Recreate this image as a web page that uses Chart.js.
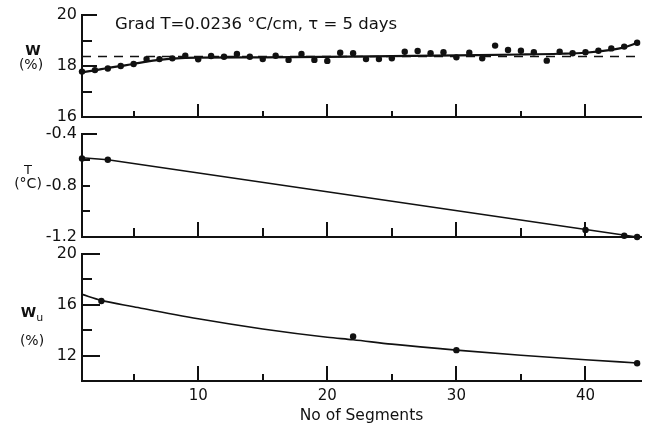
<!DOCTYPE html>
<html>
<head>
<meta charset="utf-8">
<script src="https://cdn.jsdelivr.net/npm/chart.js@4.4.1/dist/chart.umd.min.js"></script>
<style>
  html, body { margin: 0; padding: 0; background: #fff; }
  #wrap { position: relative; width: 645px; height: 431px; overflow: hidden;
          font-family: "DejaVu Sans", sans-serif; color: #111; }
  #wrap canvas { position: absolute; left: 0; top: 0; }
  .lbl { position: absolute; white-space: nowrap; line-height: 1; transform: translate(-50%, -50%); }
</style>
</head>
<body>
<div id="wrap">
  <canvas id="cW" width="645" height="431"></canvas>
  <canvas id="cT" width="645" height="431"></canvas>
  <canvas id="cWu" width="645" height="431"></canvas>

  <div class="lbl" style="left:115px;top:24px;transform:translate(0,-50%);font-size:16.5px;">Grad T=0.0236 °C/cm, τ = 5 days</div>

  <div class="lbl" style="left:33px;top:50px;font-size:14px;font-weight:bold;">W</div>
  <div class="lbl" style="left:31px;top:64px;font-size:14px;">(%)</div>

  <div class="lbl" style="left:28px;top:169px;font-size:13px;">T</div>
  <div class="lbl" style="left:28px;top:183px;font-size:14px;">(°C)</div>

  <div class="lbl" style="left:32px;top:314px;font-size:14px;font-weight:bold;">W<sub style="font-size:11px;font-weight:normal;">u</sub></div>
  <div class="lbl" style="left:32px;top:340px;font-size:14px;">(%)</div>
</div>

<script>
// ---- segment axis ----
const xTickVals  = [5, 10, 15, 20, 25, 30, 35, 40];
const xMajorVals = [10, 20, 30, 40];

// ---- moisture content W (%) per segment ----
const segments = [1, 2, 3, 4, 5, 6, 7, 8, 9, 10, 11, 12, 13, 14, 15, 16, 17, 18, 19, 20, 21, 22,
                  23, 24, 25, 26, 27, 28, 29, 30, 31, 32, 33, 34, 35, 36, 37, 38, 39, 40, 41, 42, 43, 44];
const wPct = [17.78, 17.84, 17.90, 18.00, 18.08, 18.27, 18.27, 18.30, 18.40, 18.26, 18.39,
              18.36, 18.47, 18.36, 18.27, 18.40, 18.24, 18.47, 18.24, 18.20, 18.52, 18.50,
              18.27, 18.27, 18.30, 18.56, 18.59, 18.50, 18.54, 18.34, 18.52, 18.30, 18.80,
              18.63, 18.60, 18.54, 18.21, 18.56, 18.50, 18.54, 18.60, 18.69, 18.76, 18.91];
const wFitSeg = [1, 2, 3, 4, 5, 6, 7, 8, 10, 15, 20, 25, 30, 35, 38, 40, 42, 43, 44];
const wFitPct = [17.75, 17.83, 17.92, 18.00, 18.08, 18.17, 18.24, 18.29, 18.33, 18.34, 18.36,
                 18.39, 18.42, 18.45, 18.48, 18.52, 18.63, 18.73, 18.90];
const wInitialSeg = [1, 44];
const wInitialPct = [18.37, 18.37];
const wTickVals  = [16, 17, 18, 19, 20];
const wLabelVals = [16, 18, 20];

// ---- temperature T (°C) ----
const tLineSeg  = [1, 3, 44];
const tLineC    = [-0.585, -0.6, -1.2];
const tPointSeg = [1, 3, 40, 43, 44];
const tPointC   = [-0.59, -0.6, -1.145, -1.19, -1.2];
const tTickVals  = [-1.2, -1.0, -0.8, -0.6, -0.4];
const tLabelVals = [-1.2, -0.8, -0.4];

// ---- unfrozen water content Wu (%) ----
const wuLineSeg  = [1, 2.5, 5, 10, 15, 20, 22, 25, 30, 35, 40, 44];
const wuLinePct  = [16.82, 16.35, 15.85, 14.9, 14.1, 13.45, 13.25, 12.9, 12.43, 12.03, 11.67, 11.42];
const wuPointSeg = [2.5, 22, 30, 44];
const wuPointPct = [16.3, 13.5, 12.43, 11.4];
const wuTickVals  = [10, 12, 14, 16, 18, 20];
const wuLabelVals = [12, 16, 20];

const INK = '#111';
const FONT = '"DejaVu Sans", sans-serif';

const pairs = (xs, ys) => xs.map((x, i) => ({ x, y: ys[i] }));

// tick marks drawn on the inner side of the axes
const innerTicks = {
  id: 'innerTicks',
  afterDatasetsDraw(chart, args, opts) {
    const { ctx, chartArea } = chart;
    const xs = chart.scales.x, ys = chart.scales.y;
    ctx.save();
    ctx.strokeStyle = INK;
    ctx.lineWidth = 2;
    ctx.beginPath();
    xTickVals.forEach(v => {
      const px = Math.round(xs.getPixelForValue(v));
      const len = xMajorVals.includes(v) ? opts.xMajor : opts.xMinor;
      ctx.moveTo(px, chartArea.bottom);
      ctx.lineTo(px, chartArea.bottom - len);
    });
    opts.yTicks.forEach(v => {
      const py = Math.round(ys.getPixelForValue(v));
      const len = opts.yMajorVals.includes(v) ? opts.yMajor : opts.yMinor;
      ctx.moveTo(chartArea.left, py);
      ctx.lineTo(chartArea.left + len, py);
    });
    ctx.stroke();
    ctx.restore();
  }
};

function xScale(showLabels) {
  return {
    type: 'linear', min: 1, max: 44.3,
    afterBuildTicks: s => { s.ticks = xTickVals.map(v => ({ value: v })); },
    afterFit: s => { s.height = showLabels ? 50 : 0; s.paddingLeft = 0; s.paddingRight = 0; },
    grid: { display: false, drawTicks: false },
    border: { display: true, color: INK, width: 2 },
    ticks: {
      display: showLabels, autoSkip: false, maxRotation: 0, padding: 6, color: INK,
      font: { family: FONT, size: 15 },
      callback: v => xMajorVals.includes(v) ? String(v) : ''
    },
    title: {
      display: showLabels, text: 'No of Segments', color: INK,
      font: { family: FONT, size: 15.5 }, padding: { top: 0, bottom: 6 }
    }
  };
}

function yScale(min, max, tickVals, labelVals, fmt) {
  return {
    type: 'linear', min, max,
    afterBuildTicks: s => { s.ticks = tickVals.map(v => ({ value: v })); },
    afterFit: s => { s.width = 82; s.paddingTop = 0; s.paddingBottom = 0; },
    grid: { display: false, drawTicks: false },
    border: { display: true, color: INK, width: 2 },
    ticks: {
      padding: 5, color: INK, font: { family: FONT, size: 16 },
      callback: v => labelVals.includes(v) ? fmt(v) : ''
    }
  };
}

function makeChart(id, padding, datasets, yCfg, tickOpts, showX) {
  return new Chart(document.getElementById(id), {
    type: 'scatter',
    data: { datasets },
    options: {
      responsive: false, animation: false,
      layout: { padding },
      scales: { x: xScale(showX), y: yCfg },
      plugins: { legend: { display: false }, tooltip: { enabled: false }, innerTicks: tickOpts }
    },
    plugins: [innerTicks]
  });
}

const lineSet = (data, width, extra) => Object.assign({
  data, showLine: true, borderColor: INK, borderWidth: width, pointRadius: 0,
  cubicInterpolationMode: 'monotone', clip: false
}, extra || {});
const dotSet = (data, r) => ({
  data, showLine: false, pointRadius: r, pointBackgroundColor: INK, pointBorderWidth: 0, clip: false
});

// W panel
makeChart('cW', { top: 15, bottom: 314, left: 0, right: 4 }, [
  lineSet(pairs(wInitialSeg, wInitialPct), 1.5, { borderDash: [9, 7], cubicInterpolationMode: 'default' }),
  lineSet(pairs(wFitSeg, wFitPct), 2.2),
  dotSet(pairs(segments, wPct), 3.2)
], yScale(16, 20, wTickVals, wLabelVals, v => String(v)),
   { xMajor: 13, xMinor: 6, yTicks: wTickVals, yMajorVals: wLabelVals, yMajor: 15, yMinor: 10 }, false);

// T panel
makeChart('cT', { top: 134, bottom: 194, left: 0, right: 4 }, [
  lineSet(pairs(tLineSeg, tLineC), 1.6, { cubicInterpolationMode: 'default' }),
  dotSet(pairs(tPointSeg, tPointC), 3.2)
], yScale(-1.2, -0.4, tTickVals, tLabelVals, v => v.toFixed(1)),
   { xMajor: 15, xMinor: 9, yTicks: tTickVals, yMajorVals: [-0.4], yMajor: 15, yMinor: 8 }, false);

// Wu panel
makeChart('cWu', { top: 254, bottom: 0, left: 0, right: 4 }, [
  lineSet(pairs(wuLineSeg, wuLinePct), 1.6),
  dotSet(pairs(wuPointSeg, wuPointPct), 3.2)
], yScale(10, 20, wuTickVals, wuLabelVals, v => String(v)),
   { xMajor: 15, xMinor: 7, yTicks: wuTickVals, yMajorVals: wuLabelVals, yMajor: 18, yMinor: 10 }, true);
</script>
</body>
</html>
